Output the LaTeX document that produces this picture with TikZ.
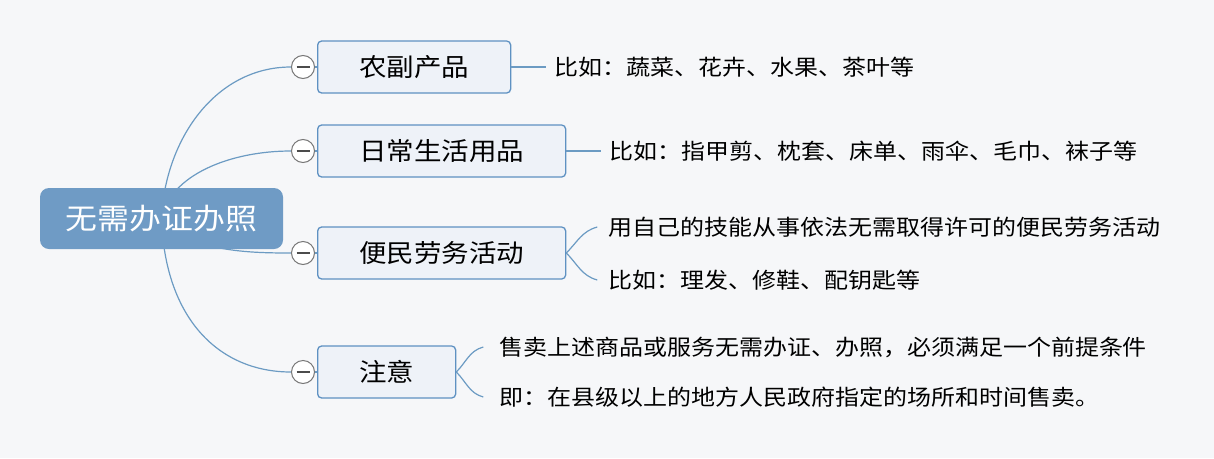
\documentclass[tikz,border=0pt]{standalone}
\usepackage{fontspec}
\setmainfont{Noto Sans CJK SC}[FakeStretch=1.1]
\usepackage{tikz}
\usetikzlibrary{positioning,backgrounds}
\definecolor{RootBlue}{HTML}{6F9BC5}
\definecolor{TopicEdge}{HTML}{5E91C2}
\definecolor{TopicFill}{HTML}{EEF2F8}
\definecolor{BranchLine}{HTML}{6C9BC3}
\definecolor{FoldGray}{HTML}{777777}
\definecolor{PageBg}{HTML}{F6F7F9}
\tikzset{
    % central topic
    rootbox/.style={
        rectangle,
        rounded corners=9pt,
        fill=RootBlue,
        text=white,
        minimum width=243pt,
        minimum height=61pt,
        font=\fontsize{29}{32}\selectfont
    },
    topicbox/.style={
        rectangle,
        rounded corners=4pt,
        draw=TopicEdge,
        fill=TopicFill,
        line width=1.3pt,
        minimum height=52pt,
        inner xsep=41.5pt,
        anchor=west,
        font=\fontsize{25}{28}\selectfont
    },
    foldmark/.style={
        circle,
        draw=FoldGray,
        fill=white,
        line width=1pt,
        minimum size=23pt,
        inner sep=0pt,
        path picture={\draw[line width=1.2pt,color=black!70] ([xshift=5pt]path picture bounding box.west) -- ([xshift=-5pt]path picture bounding box.east);}
    },
    leaftext/.style={
        inner xsep=8pt,
        inner ysep=2pt,
        font=\fontsize{21.8}{25}\selectfont
    },
    branch/.style={
        draw=BranchLine,
        line width=1.2pt
    }
}
\begin{document}
\begin{tikzpicture}[x=1pt, y=1pt, node distance=35pt]
    \useasboundingbox (0,0) rectangle (1214,-458);

    \node[rootbox] (root) at (161.5,-218.5) {无需办证办照};

    \node[topicbox] (b1) at (317,-67) {农副产品};
    \node[topicbox] (b2) at (317,-151) {日常生活用品};
    \node[topicbox] (b3) at (317,-253) {便民劳务活动};
    \node[topicbox] (b4) at (317,-372) {注意};

    \node[foldmark, left=2pt of b1] (c1) {};
    \node[foldmark, left=2pt of b2] (c2) {};
    \node[foldmark, left=2pt of b3] (c3) {};
    \node[foldmark, left=2pt of b4] (c4) {};

    \node[leaftext, right=35pt of b1] (t1) {比如：蔬菜、花卉、水果、茶叶等};
    \node[leaftext, right=35pt of b2] (t2) {比如：指甲剪、枕套、床单、雨伞、毛巾、袜子等};
    \node[leaftext, right=34pt of b3, yshift=26pt] (t3a) {用自己的技能从事依法无需取得许可的便民劳务活动};
    \node[leaftext, right=34pt of b3, yshift=-27pt] (t3b) {比如：理发、修鞋、配钥匙等};
    \node[leaftext, right=35pt of b4, yshift=25pt] (t4a) {售卖上述商品或服务无需办证、办照，必须满足一个前提条件};
    \node[leaftext, right=35pt of b4, yshift=-25pt] (t4b) {即：在县级以上的地方人民政府指定的场所和时间售卖。};

    % Branches
    \begin{scope}[on background layer]
        \fill[PageBg] (0,0) rectangle (1214,-458);
        \draw[branch] (root.center) .. controls (165,-140) and (215,-67) .. (c1.west);
        \draw[branch] (root.center) .. controls (170,-175) and (230,-151) .. (c2.west);
        \draw[branch] (root.center) .. controls (190,-252) and (250,-253) .. (c3.west);
        \draw[branch] (root.center) .. controls (165,-320) and (220,-372) .. (c4.west);
    \end{scope}
    \foreach \i in {1,...,4}
        \draw[branch] (c\i.east) -- (b\i.west);

    \draw[branch] (b1.east) -- (t1.west);
    \draw[branch] (b2.east) -- (t2.west);
    \draw[branch] (b3.east) to[out=45,in=195] ([xshift=-3pt]t3a.west);
    \draw[branch] (b3.east) to[out=-45,in=165] ([xshift=-3pt]t3b.west);
    \draw[branch] (b4.east) to[out=45,in=195] ([xshift=-8pt]t4a.west);
    \draw[branch] (b4.east) to[out=-45,in=165] ([xshift=-8pt]t4b.west);
\end{tikzpicture}
\end{document}
